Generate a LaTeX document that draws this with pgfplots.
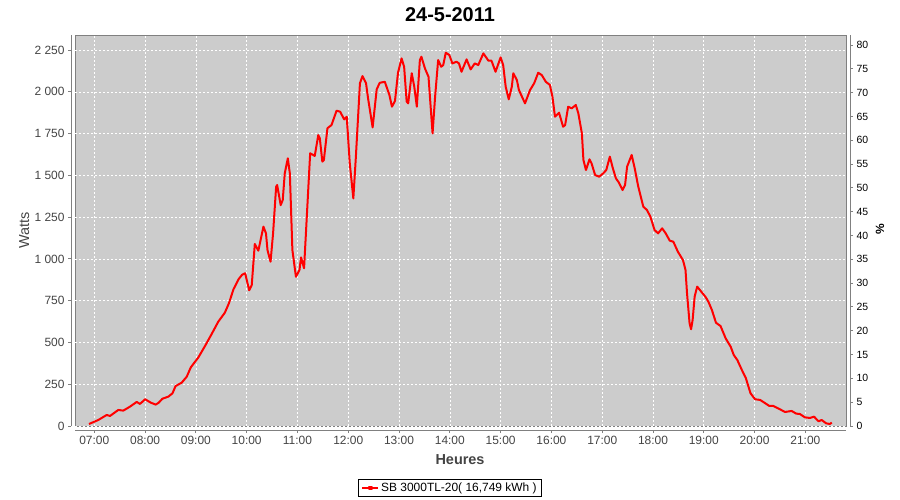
\documentclass[border=0pt]{standalone}
\usepackage{pgfplots}
\pgfplotsset{compat=1.18}
\usepackage{fontspec}
\setmainfont{Liberation Sans}
\definecolor{plotbg}{RGB}{204,204,204}
\definecolor{axisgray}{RGB}{128,128,128}
\definecolor{labgray}{RGB}{68,68,68}

% production du jour: heure decimale, puissance en W
\pgfplotstableread{
t W
6.896 12
7.079 36
7.244 66
7.309 60
7.472 96
7.571 92
7.703 116
7.835 144
7.90 132
8.00 160
8.11 140
8.21 128
8.27 140
8.34 163
8.46 176
8.54 196
8.60 239
8.72 259
8.82 295
8.90 351
9.05 411
9.18 479
9.31 550
9.44 624
9.57 678
9.65 734
9.74 818
9.84 878
9.91 905
9.97 914
10.05 812
10.10 844
10.16 1089
10.23 1049
10.33 1193
10.38 1153
10.41 1053
10.47 983
10.52 1153
10.58 1432
10.60 1442
10.67 1322
10.71 1352
10.75 1512
10.81 1602
10.85 1512
10.90 1053
10.97 893
11.04 934
11.07 1009
11.13 944
11.25 1632
11.31 1622
11.34 1616
11.41 1741
11.44 1722
11.49 1582
11.52 1592
11.59 1782
11.67 1801
11.77 1887
11.84 1881
11.92 1835
11.97 1851
12.03 1572
12.10 1362
12.15 1611
12.23 2051
12.28 2094
12.35 2051
12.39 1961
12.48 1787
12.56 2015
12.62 2054
12.72 2060
12.81 1981
12.86 1911
12.92 1945
12.98 2115
13.05 2200
13.10 2150
13.15 1941
13.18 1931
13.25 2111
13.30 2030
13.35 1911
13.41 2190
13.44 2210
13.51 2140
13.58 2090
13.66 1751
13.71 1971
13.77 2190
13.83 2150
13.87 2160
13.92 2234
13.99 2220
14.05 2170
14.13 2180
14.18 2170
14.23 2120
14.33 2194
14.41 2134
14.49 2170
14.56 2160
14.66 2230
14.76 2186
14.82 2186
14.90 2120
15.00 2206
15.05 2160
15.10 2030
15.16 1955
15.22 2030
15.25 2111
15.32 2070
15.36 2011
15.48 1931
15.58 2011
15.66 2051
15.74 2114
15.81 2100
15.89 2060
15.97 2041
16.02 1971
16.07 1851
16.15 1875
16.23 1791
16.27 1801
16.33 1911
16.40 1901
16.48 1921
16.53 1871
16.60 1751
16.63 1592
16.68 1532
16.75 1596
16.79 1572
16.86 1502
16.94 1492
17.02 1512
17.08 1532
17.15 1612
17.21 1542
17.27 1482
17.33 1456
17.40 1412
17.45 1442
17.49 1552
17.58 1622
17.64 1542
17.71 1432
17.81 1312
17.88 1293
17.95 1252
18.03 1173
18.10 1153
18.18 1183
18.25 1153
18.33 1109
18.40 1103
18.49 1043
18.59 993
18.64 934
18.67 794
18.72 615
18.75 579
18.78 634
18.82 774
18.87 834
18.95 804
19.04 770
19.09 744
19.16 694
19.24 618
19.33 598
19.43 525
19.53 474
19.59 425
19.66 395
19.75 335
19.83 285
19.88 235
19.92 196
20.01 160
20.11 156
20.21 136
20.29 120
20.37 120
20.46 106
20.60 84
20.73 90
20.82 74
20.89 72
20.99 52
21.09 48
21.17 56
21.26 28
21.32 36
21.41 16
21.48 12
21.52 20
}\prod

\begin{document}
\begin{tikzpicture}
\useasboundingbox (0,0) rectangle (900bp,500bp);
\begin{axis}[
    at={(75bp,74bp)}, anchor=south west,
    scale only axis, width=771bp, height=391bp,
    xmin=6.62, xmax=21.80, ymin=0, ymax=2340,
    xtick={7,8,...,21},
    xticklabels={07:00,08:00,09:00,10:00,11:00,12:00,13:00,14:00,15:00,16:00,17:00,18:00,19:00,20:00,21:00},
    ytick={0,250,...,2250},
    yticklabels={0,250,500,750,1 000,1 250,1 500,1 750,2 000,2 250},
    axis x line=bottom, axis y line=left,
    axis x line shift=4bp, axis y line shift=4bp,
    axis line style={-, draw=axisgray, line width=0.9bp},
    tick align=outside, major tick length=3bp,
    tick style={draw=axisgray, line width=0.9bp},
    tick label style={font=\fontsize{12}{12}\selectfont, text=labgray},
    /pgf/number format/assume math mode=true,
    grid=major,
    grid style={white, line width=0.6bp, dash pattern=on 2bp off 2bp},
    axis background/.style={fill=plotbg, draw=axisgray, line width=0.6bp},
    title={24-5-2011},
    title style={font=\bfseries\fontsize{20}{20}\selectfont, at={(axis description cs:0.4864,1.038)}, anchor=center},
    xlabel={Heures},
    xlabel style={font=\bfseries\fontsize{14.5}{14.5}\selectfont, text=labgray, at={(axis description cs:0.4994,-0.087)}, anchor=center},
    ylabel={Watts},
    ylabel style={font=\fontsize{14.5}{14.5}\selectfont, text=labgray, at={(axis description cs:-0.066,0.501)}, anchor=center},
    legend style={at={(axis description cs:0.4864,-0.1586)}, anchor=center,
        draw=black, line width=0.9bp, font=\fontsize{12}{12}\selectfont,
        inner xsep=3bp, inner ysep=1.5bp, legend cell align=left},
    legend image code/.code={\draw[red, line width=1.8bp] (0bp,0bp) -- (16bp,0bp);
        \fill[red] (7bp,-1.2bp) rectangle (9.4bp,1.2bp);},
]
\addplot[red, line width=2bp, line join=round] table[x=t, y=W] {\prod};
\addlegendentry{SB 3000TL-20( 16,749 kWh )}
\end{axis}
\begin{axis}[
    at={(75bp,74bp)}, anchor=south west,
    scale only axis, width=771bp, height=391bp,
    xmin=6.62, xmax=21.80, ymin=0, ymax=82.1,
    axis x line=none, axis y line=right,
    axis y line shift=4bp,
    axis line style={-, draw=axisgray, line width=0.9bp},
    ytick={0,5,...,80},
    tick align=outside, major tick length=3bp,
    tick style={draw=axisgray, line width=0.9bp},
    tick label style={font=\fontsize{10.5}{10.5}\selectfont, text=black},
    /pgf/number format/assume math mode=true,
    ylabel={\%},
    ylabel style={font=\bfseries\fontsize{12}{12}\selectfont, text=black, at={(axis description cs:1.044,0.504)}, anchor=center},
]
\end{axis}
\end{tikzpicture}
\end{document}
